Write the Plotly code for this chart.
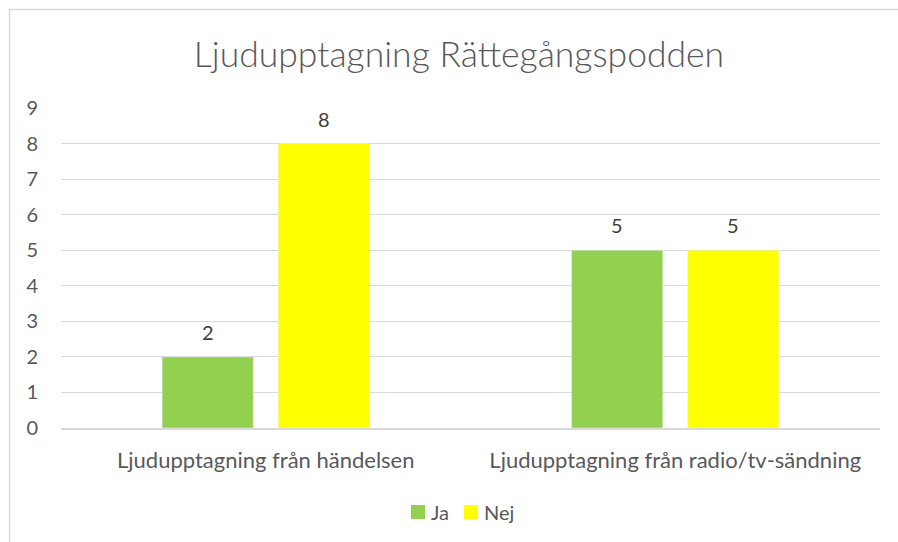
import plotly.graph_objects as go

categories = ["Ljudupptagning från händelsen", "Ljudupptagning från radio/tv-sändning"]
series_names = ["Ja", "Nej"]
ja_values = [2, 5]
nej_values = [8, 5]
y_ticks = list(range(0, 10))
colors = ["#92D050", "#FFFF00"]

FONT = "Lato"
GRAY = "#595959"

L, R, T, B = 61, 18, 108, 114
W, H = 898, 542
pw = W - L - R
ph = H - T - B


def px_x(x):
    return (x - L) / pw


def px_y(y):
    return (T + ph - y) / ph


fig = go.Figure()
for name, vals, col in zip(series_names, (ja_values, nej_values), colors):
    fig.add_trace(go.Bar(name=name, x=categories, y=vals, marker_color=col, showlegend=False))

# data labels above bars
for vals, shift in ((ja_values, -58), (nej_values, 58)):
    for c, v in zip(categories, vals):
        fig.add_annotation(x=c, y=v, xref="x", yref="y", text=str(v), showarrow=False,
                           xshift=shift, yshift=25, yanchor="middle",
                           font=dict(size=20, color="#404040", family=FONT))

# custom legend (bottom centre)
legend_x = [411, 464]
for name, col, lx in zip(series_names, colors, legend_x):
    fig.add_shape(type="rect", xref="paper", yref="paper",
                  x0=px_x(lx), x1=px_x(lx + 14), y0=px_y(519), y1=px_y(505),
                  line=dict(width=0), fillcolor=col)
    fig.add_annotation(x=px_x(lx + 18), y=px_y(512), xref="paper", yref="paper",
                       text=name, showarrow=False, xanchor="left", yanchor="middle",
                       font=dict(size=20, color=GRAY, family=FONT))

fig.update_layout(
    width=W, height=H,
    margin=dict(l=L, r=R, t=T, b=B),
    paper_bgcolor="white", plot_bgcolor="white",
    font=dict(family=FONT, color=GRAY, size=20),
    title=dict(text="Ljudupptagning Rättegångspodden", x=459 / W, xanchor="center",
               y=1 - 55 / H, yanchor="middle",
               font=dict(size=35.5, color=GRAY, family=FONT, weight=300)),
    barmode="group", bargap=0.433, bargroupgap=0.215,
    showlegend=False,
    xaxis=dict(showline=True, linecolor="#D9D9D9", linewidth=1.5, ticks="",
               tickfont=dict(size=22, color=GRAY), ticklabelstandoff=12),
    yaxis=dict(range=[0, 9], tickvals=y_ticks, showgrid=True, gridcolor="#D9D9D9",
               gridwidth=1.3, zeroline=False, ticks="", tickfont=dict(size=20, color=GRAY),
               ticklabelstandoff=22),
)

fig.add_shape(type="rect", xref="paper", yref="paper",
              x0=px_x(9.5), x1=px_x(W + 5), y0=px_y(H + 5), y1=px_y(9.5),
              line=dict(color="#D9D9D9", width=1.5), fillcolor="rgba(0,0,0,0)", layer="below")

fig.write_html("out.html", config={"displayModeBar": False},
               post_script="document.body.style.margin='0';")
